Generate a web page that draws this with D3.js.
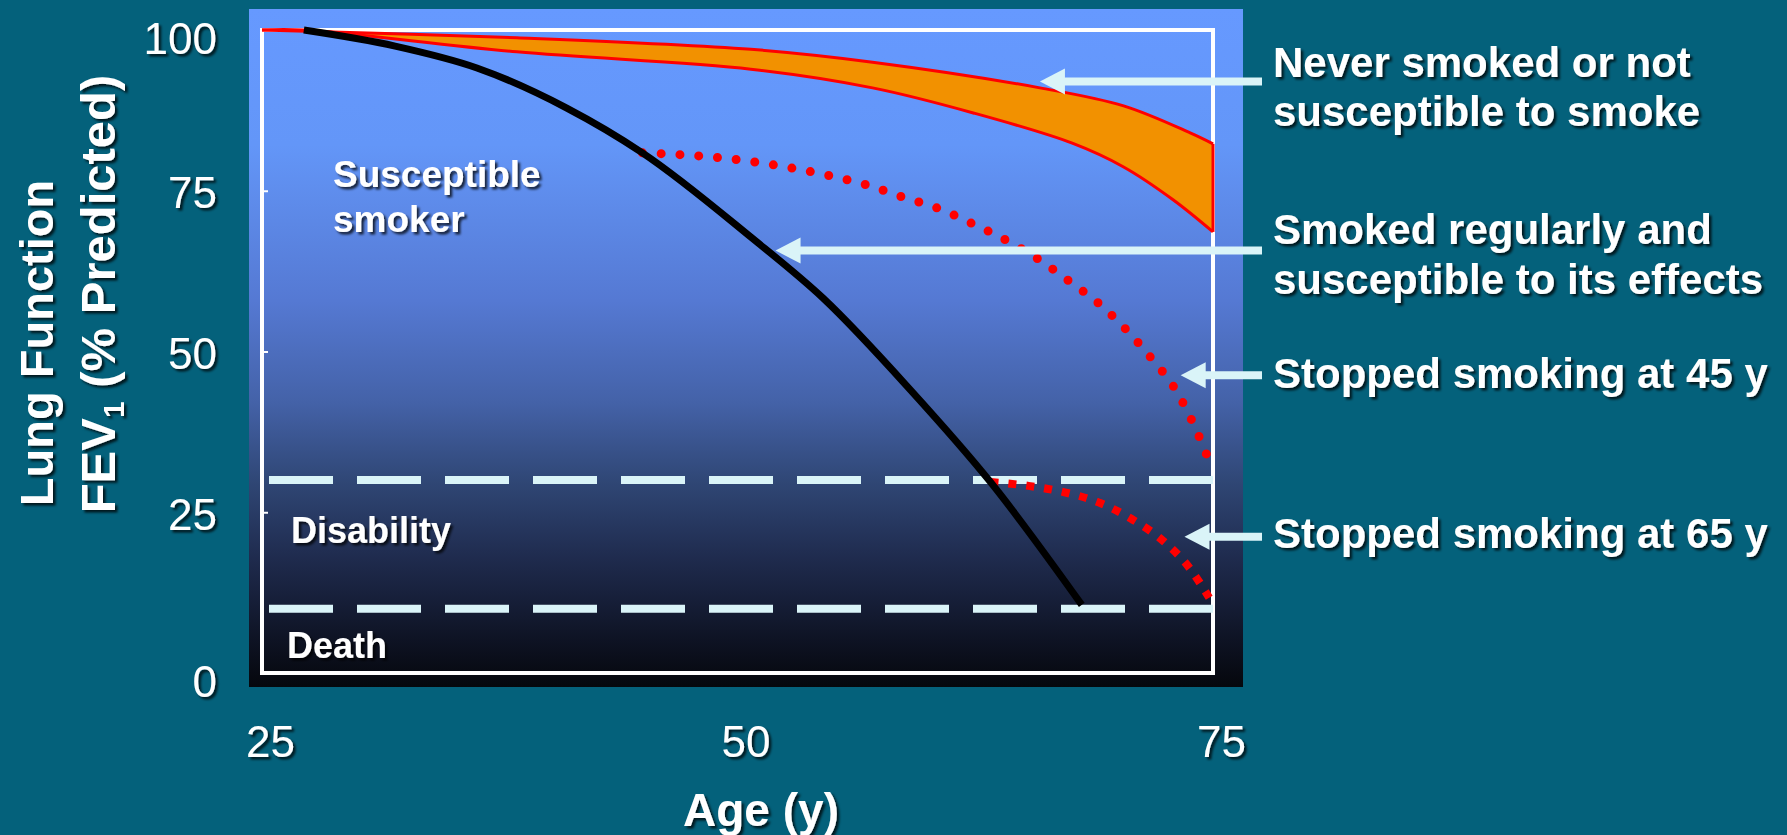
<!DOCTYPE html>
<html>
<head>
<meta charset="utf-8">
<script src="https://cdn.jsdelivr.net/npm/d3@7"></script>
<style>
  html, body { margin: 0; padding: 0; background: #04617b; }
  svg { display: block; }
  text { font-family: "Liberation Sans", Arial, sans-serif; fill: #ffffff; }
</style>
</head>
<body>
<script>
// ---------------- data ----------------
const xTicks = [25, 50, 75];
const yTicks = [0, 25, 50, 75, 100];

// Never smoked / not susceptible (band)
const neverUpperAge = [25, 38.4, 50.7, 57.1, 65.9, 70.3, 73.8, 75];
const neverUpperFev = [100, 98.8, 97.0, 95.0, 91.0, 88.2, 84.0, 82.3];
const neverLowerAge = [25, 27.2, 38.4, 50.7, 57.1, 62.4, 67.6, 70.3, 72.9, 75];
const neverLowerFev = [100, 100, 96.6, 93.9, 91.0, 87.1, 82.4, 78.7, 73.6, 68.6];

// Smoked regularly and susceptible
const smokerAge = [27.2, 32.0, 36.3, 41.0, 45.0, 50.7, 54.5, 59.1, 63.3, 68.1];
const smokerFev = [100, 97.5, 94.1, 87.9, 80.9, 67.8, 58.3, 44.0, 29.7, 10.6];

// Stopped smoking at 45 y
const quit45Age = [45.0, 50.1, 52.9, 54.9, 56.8, 58.7, 60.6, 62.4, 64.2, 65.9, 67.5, 69.1, 70.5, 71.8, 73.0, 73.9, 74.7];
const quit45Fev = [80.9, 79.8, 78.5, 77.3, 75.9, 74.0, 72.2, 69.8, 67.2, 64.2, 60.8, 57.2, 53.2, 48.8, 44.2, 39.2, 33.7];

// Stopped smoking at 65 y
const quit65Age = [63.3, 65.3, 67.2, 69.1, 70.8, 72.4, 73.8, 74.8];
const quit65Fev = [29.7, 29.1, 28.1, 26.4, 23.8, 20.5, 16.2, 11.7];

// thresholds
const thresholdNames = ["Disability", "Death"];
const thresholdValues = [30, 10];

// annotations
const annoLines = [
  ["Never smoked or not", "susceptible to smoke"],
  ["Smoked regularly and", "susceptible to its effects"],
  ["Stopped smoking at 45 y"],
  ["Stopped smoking at 65 y"]
];
// arrow targets (age, fev) the arrows point at
const arrowAge = [65.9, 52.0, 73.3, 73.5];
const arrowFev = [92.0, 65.7, 46.3, 21.2];

// ---------------- layout ----------------
const W = 1787, H = 835;
const frame = { left: 262, right: 1213, top: 30, bottom: 673 };
const panel = { left: 249, right: 1243, top: 9, bottom: 687 };

const svg = d3.select("body").append("svg").attr("width", W).attr("height", H);
const defs = svg.append("defs");

const grad = defs.append("linearGradient").attr("id", "bg").attr("x1", 0).attr("y1", 0).attr("x2", 0).attr("y2", 1);
[[0, "#6699ff"], [0.2, "#6396f8"], [0.43, "#5579d3"], [0.58, "#4462a8"], [0.7, "#2f4674"],
 [0.81, "#1f2b4e"], [0.93, "#0e1324"], [1, "#05070c"]].forEach(([o, c]) =>
  grad.append("stop").attr("offset", o).attr("stop-color", c));

const sh = defs.append("filter").attr("id", "shadow").attr("x", "-10%").attr("y", "-20%").attr("width", "130%").attr("height", "150%");
sh.append("feDropShadow").attr("dx", 2.5).attr("dy", 2.5).attr("stdDeviation", 1).attr("flood-color", "#000").attr("flood-opacity", 0.75);

svg.append("rect").attr("width", W).attr("height", H).attr("fill", "#04617b");
svg.append("rect").attr("x", panel.left).attr("y", panel.top)
  .attr("width", panel.right - panel.left).attr("height", panel.bottom - panel.top)
  .attr("fill", "url(#bg)");

const x = d3.scaleLinear().domain([25, 75]).range([frame.left, frame.right]);
const y = d3.scaleLinear().domain([0, 100]).range([frame.bottom, frame.top]);

// frame
svg.append("rect").attr("x", frame.left).attr("y", frame.top)
  .attr("width", frame.right - frame.left).attr("height", frame.bottom - frame.top)
  .attr("fill", "none").attr("stroke", "#ffffff").attr("stroke-width", 4);

// y axis
const yAxis = svg.append("g").attr("transform", `translate(${frame.left},3)`)
  .call(d3.axisLeft(y).tickValues(yTicks).tickFormat(d3.format("d"))
    .tickSizeInner(-6).tickSizeOuter(0).tickPadding(45));
yAxis.select(".domain").remove();
yAxis.selectAll("line").attr("stroke", "#ffffff").attr("stroke-width", 2).attr("transform", "translate(0,-3)");
yAxis.selectAll("text").attr("font-size", 44).attr("fill", "#fff").attr("filter", "url(#shadow)")
  .style("font-family", "'Liberation Sans', Arial, sans-serif")
  .attr("transform", d => (d === 100 || d === 0) ? "translate(0,6)" : null);

// x axis
const xAxis = svg.append("g").attr("transform", `translate(8,${frame.bottom})`)
  .call(d3.axisBottom(x).tickValues(xTicks).tickFormat(d3.format("d")).tickSize(0).tickPadding(53));
xAxis.select(".domain").remove();
xAxis.selectAll("text").attr("font-size", 44).attr("fill", "#fff").attr("filter", "url(#shadow)")
  .style("font-family", "'Liberation Sans', Arial, sans-serif");

// threshold dashed lines
svg.selectAll(".thr").data(thresholdValues).enter().append("line")
  .attr("x1", frame.left + 7).attr("x2", frame.right)
  .attr("y1", d => y(d)).attr("y2", d => y(d))
  .attr("stroke", "#daf4f8").attr("stroke-width", 8).attr("stroke-dasharray", "64 24");

// never-smoked band
const zip = (a, b) => a.map((v, i) => [v, b[i]]);
const upper = zip(neverUpperAge, neverUpperFev);
const lower = zip(neverLowerAge, neverLowerFev);
const line = d3.line().x(d => x(d[0])).y(d => y(d[1])).curve(d3.curveCatmullRom.alpha(0.5));
const smooth = d3.line().x(d => x(d[0])).y(d => y(d[1])).curve(d3.curveMonotoneX);
const bandPath = line(upper) + "L" + line(lower.slice().reverse()).slice(1) + "Z";
svg.append("path").attr("d", bandPath).attr("fill", "#f29100").attr("stroke", "none");
svg.append("path").attr("d", line(upper)).attr("fill", "none").attr("stroke", "#ff0000").attr("stroke-width", 3);
svg.append("path").attr("d", line(lower)).attr("fill", "none").attr("stroke", "#ff0000").attr("stroke-width", 3);
svg.append("line").attr("x1", x(75)).attr("x2", x(75))
  .attr("y1", y(neverUpperFev[neverUpperFev.length - 1])).attr("y2", y(neverLowerFev[neverLowerFev.length - 1]))
  .attr("stroke", "#ff0000").attr("stroke-width", 3);

// quitters (drawn before smoker line)
svg.append("path").attr("d", smooth(zip(quit45Age, quit45Fev))).attr("fill", "none")
  .attr("stroke", "#ff0000").attr("stroke-width", 9).attr("stroke-linecap", "round")
  .attr("stroke-dasharray", "0 18.8");
svg.append("path").attr("d", smooth(zip(quit65Age, quit65Fev))).attr("fill", "none")
  .attr("stroke", "#ff0000").attr("stroke-width", 8).attr("stroke-linecap", "butt")
  .attr("stroke-dasharray", "8 10");

// susceptible smoker
svg.append("path").attr("d", smooth(zip(smokerAge, smokerFev))).attr("fill", "none")
  .attr("stroke", "#000000").attr("stroke-width", 7);

// labels inside plot
const inner = svg.append("g").attr("font-weight", "bold").attr("filter", "url(#shadow)");
inner.append("text").attr("x", 333).attr("y", 187).attr("font-size", 37).text("Susceptible");
inner.append("text").attr("x", 333).attr("y", 232).attr("font-size", 37).text("smoker");
inner.append("text").attr("x", 291).attr("y", y(thresholdValues[0]) + 63).attr("font-size", 36).text(thresholdNames[0]);
inner.append("text").attr("x", 287).attr("y", y(thresholdValues[1]) + 49).attr("font-size", 36).text(thresholdNames[1]);

// arrows
const arrowEnd = 1262;
const ag = svg.append("g");
arrowAge.forEach((a, i) => {
  const tx = x(a), ty = y(arrowFev[i]);
  ag.append("line").attr("x1", tx + 20).attr("x2", arrowEnd).attr("y1", ty).attr("y2", ty)
    .attr("stroke", "#daf4f8").attr("stroke-width", 8);
  ag.append("path").attr("d", `M${tx},${ty} L${tx + 25},${ty - 13} L${tx + 25},${ty + 13} Z`)
    .attr("fill", "#daf4f8");
});

// annotations
const annoBaselines = [[77, 126], [244, 294], [388], [548]];
const ann = svg.append("g").attr("font-weight", "bold").attr("filter", "url(#shadow)");
annoLines.forEach((lines, i) => {
  lines.forEach((t, j) => {
    ann.append("text").attr("x", 1273).attr("y", annoBaselines[i][j]).attr("font-size", 42).text(t);
  });
});

// axis titles
const titles = svg.append("g").attr("font-weight", "bold").attr("filter", "url(#shadow)");
titles.append("text").attr("x", 761).attr("y", 826).attr("text-anchor", "middle").attr("font-size", 46).text("Age (y)");
titles.append("text").attr("transform", "translate(53,343) rotate(-90)").attr("text-anchor", "middle")
  .attr("font-size", 47).text("Lung Function");
const t2 = titles.append("text").attr("transform", "translate(115,294) rotate(-90)").attr("text-anchor", "middle")
  .attr("font-size", 49);
t2.append("tspan").text("FEV");
t2.append("tspan").attr("font-size", 30).attr("dy", 9).text("1");
t2.append("tspan").attr("dy", -9).text(" (% Predicted)");
</script>
</body>
</html>
